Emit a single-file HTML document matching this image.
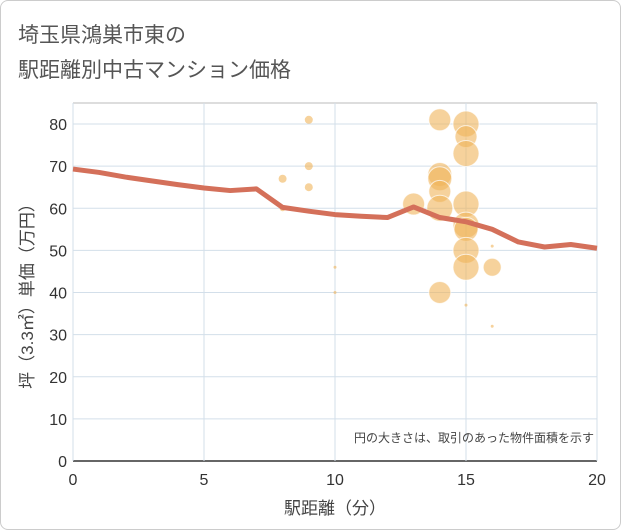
<!DOCTYPE html>
<html><head><meta charset="utf-8">
<style>
body{margin:0;background:#fff;font-family:"Liberation Sans","Noto Sans CJK JP",sans-serif;}
#wrap{position:relative;width:619px;height:528px;border:1px solid #ccc;border-radius:8px;overflow:hidden;background:#fff}
</style></head>
<body>
<div id="wrap">
<svg id="chart" width="621" height="530" style="position:absolute;left:-1px;top:-1px">
<text x="18" y="42" font-size="21" fill="#555">埼玉県鴻巣市東の</text>
<text x="18" y="77" font-size="21" fill="#555">駅距離別中古マンション価格</text>
<text x="335" y="514" font-size="17" fill="#444" text-anchor="middle">駅距離（分）</text>
<text transform="translate(33,292) rotate(-90)" font-size="17" fill="#444" text-anchor="middle">坪（3.3㎡）単価（万円）</text>
</svg>
</div>
<script>
const xTicks=[0,5,10,15,20];
const yTicks=[0,10,20,30,40,50,60,70,80];
const lineX=[0,1,2,3,4,5,6,7,8,9,10,11,12,13,14,15,16,17,18,19,20];
const lineY=[69.3,68.5,67.4,66.5,65.6,64.8,64.2,64.6,60.2,59.3,58.5,58.1,57.8,60.3,57.8,56.8,55,52,50.8,51.4,50.5];
const bubbleX=[8,8,9,9,9,10,10,13,14,14,14,14,14,14,15,15,15,15,15,15,15,15,15,16,16,16];
const bubbleY=[67,60,81,70,65,46,40,61,81,68,67,64,60,40,80,77,73,61,56,55,50,46,37,51,46,32];
const bubbleR=[4,3,4,4,4,1.5,1.5,11,11,12,12,11,13,11,13,11,13,13,13,12,13,13,1.5,1.5,9,1.5];
const X0=73,X1=597,Y0=461,Y1=124;
const sx=v=>X0+(X1-X0)*v/20;
const sy=v=>Y0-(Y0-Y1)*v/80;
const svg=document.getElementById('chart');
const NS='http://www.w3.org/2000/svg';
function mk(t,a){const e=document.createElementNS(NS,t);for(const k in a)e.setAttribute(k,a[k]);svg.appendChild(e);return e;}
const bg=mk('rect',{x:X0,y:103,width:X1-X0,height:Y0-103,fill:'#fff'});


const plotTop=mk('line',{x1:X0,x2:X1,y1:103,y2:103,stroke:'#bbb','stroke-width':1});


yTicks.forEach(v=>{
  const g=mk('line',{x1:X0,x2:X1,y1:sy(v),y2:sy(v),stroke:v===0?'#333':'#d3dfea','stroke-width':v===0?1.5:1});
  
  
  const t=mk('text',{x:X0-6,y:sy(v)+6,'font-size':16,fill:'#333','text-anchor':'end'});
  t.textContent=v;
  
  
});
xTicks.forEach(v=>{
  const g=mk('line',{x1:sx(v),x2:sx(v),y1:103,y2:Y0,stroke:'#d3dfea','stroke-width':1});
  
  
  const t=mk('text',{x:sx(v),y:Y0+24,'font-size':16,fill:'#333','text-anchor':'middle'});
  t.textContent=v;
  
  
});
bubbleX.forEach((v,i)=>{
  const c=mk('circle',{cx:sx(v),cy:sy(bubbleY[i]),r:bubbleR[i],fill:'rgba(240,180,90,0.6)',stroke:bubbleR[i]>5?'rgba(255,255,255,0.7)':'none','stroke-width':1});
  
  
});
const p=mk('polyline',{points:lineX.map((v,i)=>sx(v)+','+sy(lineY[i])).join(' '),fill:'none',stroke:'#d4705a','stroke-width':5,'stroke-linejoin':'round'});


const note=mk('text',{x:594,y:442,'font-size':12,fill:'#444','text-anchor':'end'});
note.textContent='円の大きさは、取引のあった物件面積を示す';


</script>
</body></html>
